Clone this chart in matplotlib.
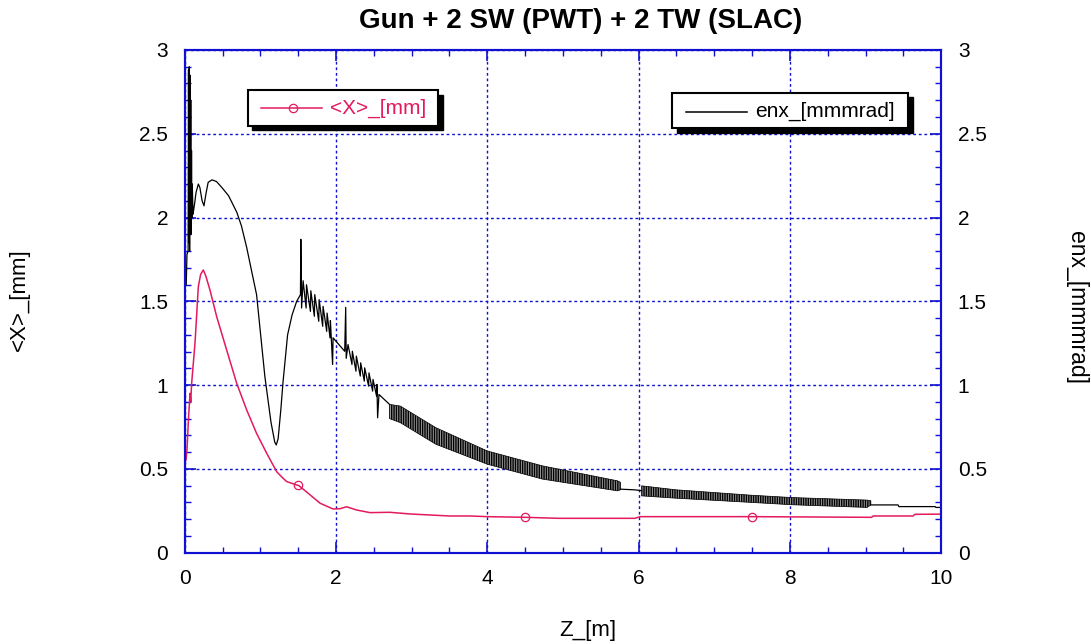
import matplotlib
matplotlib.use("Agg")
import matplotlib.pyplot as plt
from matplotlib.patches import Rectangle

plt.rcParams['font.family'] = ['Liberation Sans', 'DejaVu Sans']
plt.rcParams['hatch.linewidth'] = 1.0

# <X>_[mm] (red curve)
x_z = [0.017, 0.03, 0.05, 0.07, 0.08, 0.09, 0.11, 0.136, 0.18, 0.21, 0.246, 0.28,
       0.334, 0.423, 0.555, 0.687, 0.82, 0.95, 1.084, 1.216, 1.30, 1.35, 1.48, 1.51,
       1.66, 1.79, 1.96, 2.05, 2.14, 2.27, 2.45, 2.71, 2.98, 3.24, 3.5, 3.77, 4.0,
       4.5, 4.95, 5.95, 6.02, 7.5, 9.08, 9.1, 9.63, 9.65, 10.0]
x_val = [0.553, 0.613, 0.80, 0.951, 0.90, 1.00, 1.11, 1.25, 1.587, 1.66, 1.687, 1.65,
         1.567, 1.408, 1.209, 1.011, 0.851, 0.712, 0.593, 0.483, 0.444, 0.424, 0.404, 0.40,
         0.344, 0.295, 0.261, 0.262, 0.274, 0.255, 0.239, 0.241, 0.231, 0.225, 0.219, 0.219, 0.215,
         0.211, 0.205, 0.205, 0.215, 0.215, 0.211, 0.219, 0.219, 0.229, 0.23]
x_mark_z = [1.5, 4.5, 7.5]
x_mark_val = [0.404, 0.211, 0.215]

# enx_[mmmrad] (black curve), first part up to the dense oscillation
enx_z = [0.02, 0.03, 0.045, 0.05, 0.055, 0.06, 0.065, 0.07, 0.075, 0.08, 0.085, 0.09,
         0.095, 0.10, 0.11, 0.12, 0.13, 0.15, 0.18, 0.20, 0.23, 0.255, 0.28, 0.31, 0.36,
         0.42, 0.49, 0.58, 0.69, 0.75, 0.82, 0.88, 0.95, 1.06, 1.14, 1.19, 1.21, 1.235, 1.27, 1.30,
         1.36, 1.42, 1.48, 1.53, 1.535, 1.545,
         1.565, 1.605, 1.61, 1.662, 1.667, 1.714, 1.719, 1.772, 1.777, 1.824, 1.829,
         1.877, 1.882, 1.921, 1.926, 1.955, 1.961, 2.115, 2.128, 2.135,
         2.159, 2.211, 2.216, 2.264, 2.269, 2.321, 2.326, 2.374, 2.379, 2.431, 2.436,
         2.484, 2.489, 2.536, 2.541, 2.55, 2.568, 2.708]
enx_val = [1.60, 1.78, 1.80, 2.88, 1.85, 2.90, 1.80, 2.85, 1.95, 2.70, 1.90, 2.40,
           2.00, 2.20, 2.02, 2.05, 2.08, 2.15, 2.20, 2.18, 2.10, 2.07, 2.14, 2.21, 2.225,
           2.215, 2.18, 2.13, 2.03, 1.95, 1.82, 1.69, 1.54, 1.05, 0.78, 0.66, 0.643, 0.68, 0.85, 1.02,
           1.30, 1.42, 1.50, 1.54, 1.87, 1.46,
           1.623, 1.46, 1.599, 1.44, 1.563, 1.411, 1.54, 1.381, 1.51, 1.351, 1.47,
           1.321, 1.43, 1.282, 1.385, 1.123, 1.282, 1.202, 1.464, 1.16,
           1.242, 1.123, 1.202, 1.083, 1.173, 1.054, 1.133, 1.024, 1.103, 0.994, 1.073,
           0.964, 1.034, 0.935, 1.004, 0.805, 0.944, 0.885]

# dense oscillation envelopes
band1_z = [2.708, 2.85, 3.32, 4.0, 4.73, 5.72, 5.76]
band1_up = [0.885, 0.875, 0.746, 0.607, 0.518, 0.429, 0.42]
band1_lo = [0.80, 0.776, 0.647, 0.528, 0.439, 0.369, 0.375]
gap_z = [5.76, 5.95, 6.04]
gap_val = [0.379, 0.375, 0.37]
band2_z = [6.04, 6.5, 7.49, 8.03, 9.02, 9.07]
band2_up = [0.399, 0.375, 0.343, 0.329, 0.314, 0.31]
band2_lo = [0.339, 0.325, 0.30, 0.286, 0.27, 0.285]
tail_z = [9.07, 9.43, 9.44, 9.92, 9.93, 10.0]
tail_val = [0.285, 0.285, 0.275, 0.275, 0.27, 0.27]

red = '#E31A5C'
blue = '#1010D0'

fig = plt.figure(figsize=(10.91, 6.44), dpi=100)
ax = fig.add_axes([0.1693, 0.1418, 0.6934, 0.7806])
ax2 = ax.twinx()

ax.plot(x_z, x_val, color=red, lw=1.1)
ax.plot(x_mark_z, x_mark_val, ls='none', marker='o', ms=6, mfc='none', mec=red, mew=0.9)

ax2.plot(enx_z, enx_val, color='black', lw=0.9)
ax2.fill_between(band1_z, band1_lo, band1_up, facecolor='#999999', edgecolor='black',
                 hatch='|||||||', lw=0.5)
ax2.plot(gap_z, gap_val, color='black', lw=0.9)
ax2.fill_between(band2_z, band2_lo, band2_up, facecolor='#999999', edgecolor='black',
                 hatch='|||||||', lw=0.5)
ax2.plot(tail_z, tail_val, color='black', lw=0.9)

for a in (ax, ax2):
    a.set_xlim(0, 10)
    a.set_ylim(0, 3)
    a.set_yticks([0, 0.5, 1, 1.5, 2, 2.5, 3])
    a.set_yticklabels(['0', '0.5', '1', '1.5', '2', '2.5', '3'])
    a.set_yticks([i / 10 for i in range(31)], minor=True)
    for s in a.spines.values():
        s.set_color(blue)
        s.set_linewidth(1.5)
ax.set_xticks([0, 2, 4, 6, 8, 10])
ax.set_xticks([i / 2 for i in range(21)], minor=True)

ax.tick_params(which='both', direction='in', color=blue, top=True, right=False,
               labelsize=15, pad=12)
ax.tick_params(which='major', length=8, width=1.2)
ax.tick_params(which='minor', length=4, width=1.0)
ax2.tick_params(which='both', direction='in', color=blue, labelsize=15, pad=12)
ax2.tick_params(which='major', length=8, width=1.2)
ax2.tick_params(which='minor', length=4, width=1.0)

ax.grid(True, which='major', color=blue, ls=(0, (2, 2)), lw=1.0)

ax.set_title('Gun + 2 SW (PWT) + 2 TW (SLAC)', fontsize=20, fontweight='bold', pad=16)
ax.title.set_x(0.524)
ax.set_xlabel('Z_[m]', fontsize=16)
ax.set_ylabel('<X>_[mm]', fontsize=16)
ax2.set_ylabel('enx_[mmmrad]', fontsize=16.5, rotation=-90)
ax.xaxis.set_label_coords(0.533, -0.134)
ax.yaxis.set_label_coords(-0.2045, 0.503)
ax2.yaxis.set_label_coords(1.1935, 0.487)

# legends drawn as boxes with a solid offset shadow
def legend_box(x0, y0, x1, y1, lx0, lx1, ly, tx, label, color, marker):
    ax2.add_patch(Rectangle((x0 + 0.006, y0 - 0.009), x1 - x0, y1 - y0, transform=ax2.transAxes,
                            facecolor='black', edgecolor='black', zorder=5, clip_on=False))
    ax2.add_patch(Rectangle((x0, y0), x1 - x0, y1 - y0, transform=ax2.transAxes,
                            facecolor='white', edgecolor='black', lw=1.5, zorder=6, clip_on=False))
    ax2.plot([lx0, lx1], [ly, ly], color=color, lw=1.1, transform=ax2.transAxes, zorder=7)
    if marker:
        ax2.plot([(lx0 + lx1) / 2 + 0.003], [ly], marker='o', ms=6, mfc='none', mec=color,
                 mew=0.9, transform=ax2.transAxes, zorder=7)
    ax2.text(tx, ly, label, color=color, fontsize=15, va='center', ha='left',
             transform=ax2.transAxes, zorder=7)

legend_box(0.0833, 0.8495, 0.3352, 0.9197, 0.1005, 0.1811, 0.884, 0.192, '<X>_[mm]', red, True)
legend_box(0.6446, 0.8442, 0.9565, 0.9150, 0.6623, 0.7429, 0.8773, 0.7538, 'enx_[mmmrad]', 'black', False)

fig.savefig('out.png', dpi=100)
